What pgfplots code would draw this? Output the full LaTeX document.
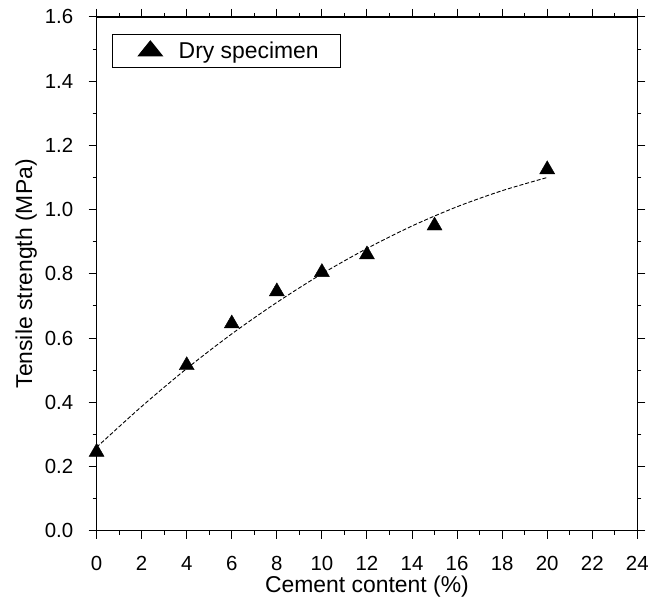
\documentclass[border=0pt]{standalone}
\usepackage{fontspec}
\setmainfont{Liberation Sans}
\usepackage{pgfplots}
\pgfplotsset{compat=1.18}
\newcommand{\tickfont}{\fontsize{20.5}{24}\selectfont}
\newcommand{\labfont}{\fontsize{23}{27}\selectfont}
\begin{document}
\begin{tikzpicture}
\begin{axis}[
    scale only axis,
    width=543pt, height=516pt,
    xmin=0, xmax=24, ymin=0, ymax=1.6,
    xtick={0,2,...,24},
    ytick={0,0.2,...,1.6},
    minor x tick num=1,
    minor y tick num=1,
    tick align=outside,
    major tick length=8pt,
    minor tick length=4pt,
    tick style={black, line width=1pt},
    axis line style={line width=1.2pt},
    tick label style={font=\tickfont},
    /pgf/number format/assume math mode=true,
    yticklabel style={xshift=-12pt, /pgf/number format/.cd, fixed, fixed zerofill, precision=1},
    xticklabel style={yshift=-14pt},
    xlabel={Cement content (\%)},
    ylabel={Tensile strength (MPa)},
    xlabel style={font=\labfont, at={(axis description cs:0.5,-0.1085)}, anchor=center},
    ylabel style={font=\labfont, at={(axis description cs:-0.13,0.5)}, anchor=center},
    legend style={at={(0.0276,0.967)}, anchor=north west, draw=black,
        font=\labfont,
        line width=1pt, inner xsep=20pt, inner ysep=5.5pt},
    legend cell align=left,
    legend image code/.code={
        \draw plot[mark size=10pt, mark options={xscale=1.39}] coordinates {(18pt,0pt)};
        \path (0pt,0pt) (44pt,0pt);
    },
]
\addplot[only marks, mark=triangle*, mark size=8.7pt, black]
coordinates {
(0,0.245) (4,0.515) (6,0.645) (8,0.745) (10,0.805) (12,0.86) (15,0.95) (20,1.125)
};
\addlegendentry{Dry specimen}
\addplot[black, dash pattern=on 4pt off 2pt, line width=0.9pt, smooth, forget plot]
coordinates {
(0,0.26) (2,0.387) (4,0.505) (6,0.613) (8,0.711) (10,0.80)
(12,0.879) (14,0.949) (16,1.009) (18,1.059) (20,1.10)
};
\path (axis description cs:0,0) ++(-97pt,-71pt) coordinate (bl);
\path (axis description cs:1,1) ++(12pt,17pt) coordinate (tr);
\end{axis}
\path (bl) (tr);
\end{tikzpicture}
\end{document}
